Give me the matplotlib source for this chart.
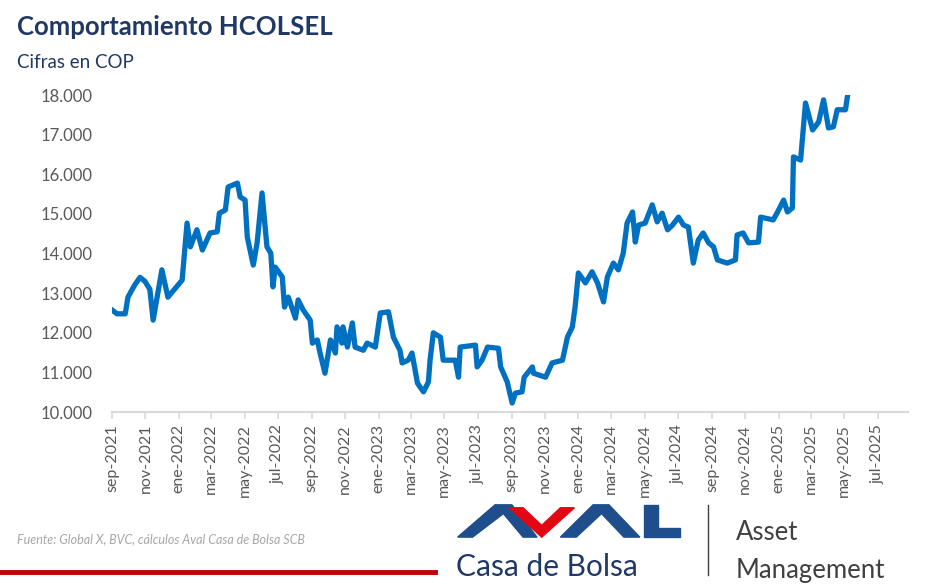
import matplotlib
matplotlib.use("Agg")
import matplotlib.pyplot as plt
import pandas as pd
from matplotlib.lines import Line2D
from matplotlib.patches import Polygon

fechas = ["2021-09-01","2021-09-10","2021-09-25","2021-09-30","2021-10-12","2021-10-22","2021-10-31","2021-11-09",
"2021-11-15","2021-12-01","2021-12-12","2022-01-07","2022-01-16",
"2022-01-22","2022-02-03","2022-02-13","2022-02-27","2022-03-12","2022-03-16","2022-03-27","2022-04-01",
"2022-04-18","2022-04-23","2022-05-02","2022-05-06","2022-05-17","2022-05-24","2022-06-02","2022-06-11",
"2022-06-18","2022-06-22","2022-06-26","2022-07-09","2022-07-13","2022-07-20","2022-08-02","2022-08-07",
"2022-08-16","2022-08-29","2022-09-02","2022-09-11","2022-09-16","2022-09-25","2022-10-05","2022-10-14",
"2022-10-17","2022-10-26","2022-10-28","2022-11-05","2022-11-14","2022-11-19","2022-12-04","2022-12-11",
"2022-12-26","2023-01-04","2023-01-19","2023-01-28","2023-02-09","2023-02-13","2023-02-24","2023-03-03",
"2023-03-13","2023-03-24","2023-04-02","2023-04-05","2023-04-11","2023-04-24","2023-04-29","2023-05-21",
"2023-05-27","2023-05-30","2023-06-27","2023-06-30","2023-07-09","2023-07-19","2023-08-08","2023-08-12",
"2023-08-24","2023-09-02","2023-09-08","2023-09-20","2023-09-24","2023-10-09","2023-10-11","2023-11-02",
"2023-11-14","2023-12-03","2023-12-12","2023-12-21","2023-12-26","2024-01-01","2024-01-14","2024-01-26",
"2024-02-05","2024-02-16","2024-02-23","2024-03-05","2024-03-14","2024-03-23","2024-03-30","2024-04-09",
"2024-04-14","2024-04-20","2024-05-02","2024-05-15","2024-05-24","2024-06-02","2024-06-12","2024-06-21",
"2024-07-02","2024-07-11","2024-07-20","2024-07-29","2024-08-07","2024-08-16","2024-08-26","2024-09-04",
"2024-09-11","2024-09-29","2024-10-14","2024-10-17","2024-10-28","2024-11-07","2024-11-25","2024-11-29",
"2024-12-22","2024-12-30","2025-01-10","2025-01-17","2025-01-26","2025-01-28","2025-02-10","2025-02-19",
"2025-03-04","2025-03-15","2025-03-24","2025-04-02","2025-04-11","2025-04-18","2025-05-03","2025-05-07"]
valores = [12576,12480,12480,12900,13200,13400,13300,13100,
12320,13590,12900,13330,14770,
14170,14600,14090,14520,14550,15020,15100,15680,
15780,15430,15350,14420,13710,14270,15530,14170,
14010,13160,13660,13410,12650,12900,12370,12830,
12580,12320,11740,11820,11490,10980,11820,11490,
12150,11740,12150,11640,12250,11640,11560,11740,
11640,12500,12530,11890,11560,11240,11310,11490,
10730,10510,10760,11310,12000,11890,11310,11310,
10880,11640,11690,11140,11310,11640,11610,11140,
10760,10230,10480,10510,10880,11140,10980,10880,
11240,11310,11890,12150,12650,13510,13260,13540,
13260,12780,13410,13760,13590,14010,14770,15050,
14290,14720,14770,15230,14800,15020,14600,14720,
14920,14720,14670,13760,14340,14520,14270,14170,
13840,13760,13840,14470,14520,14270,14290,14920,
14850,15050,15350,15050,15150,16440,16360,17800,
17120,17320,17880,17170,17200,17630,17630,18000]
y_ticks = [10000,11000,12000,13000,14000,15000,16000,17000,18000]
meses = ["ene","feb","mar","abr","may","jun","jul","ago","sep","oct","nov","dic"]

font = "Lato"
x = pd.to_datetime(fechas)
fig = plt.figure(figsize=(9.34, 5.87), dpi=100)
ax = fig.add_axes([0.12, 0.298, 0.852, 0.54])
ax.plot(x, valores, color="#0070C0", lw=3.8, solid_joinstyle="round")
ax.set_ylim(10000, 18000)
ax.set_xlim(pd.Timestamp("2021-09-01"), pd.Timestamp("2025-08-25"))
ax.set_yticks(y_ticks)
ax.set_yticklabels([f"{v:,}".replace(",", ".") for v in y_ticks], fontsize=12, color="#595959", fontname=font)
ticks = pd.date_range("2021-09-01", "2025-07-01", freq="2MS")
ax.set_xticks(ticks)
ax.set_xticklabels([f"{meses[t.month-1]}-{t.year}" for t in ticks], rotation=90, fontsize=11.5,
                   color="#595959", fontname=font)
for s in ["top", "right", "left"]:
    ax.spines[s].set_visible(False)
ax.spines["bottom"].set_color("#D9D9D9")
ax.spines["bottom"].set_linewidth(1.5)
ax.tick_params(axis="y", length=0, pad=14)
ax.tick_params(axis="x", length=5, color="#D9D9D9", width=1.2)

fig.text(0.018, 0.94, "Comportamiento HCOLSEL", fontsize=18.5, fontweight="bold", color="#1F3864", fontname=font)
fig.text(0.018, 0.885, "Cifras en COP", fontsize=13.5, color="#1F3864", fontname=font)
fig.text(0.018, 0.074, "Fuente: Global X, BVC, cálculos Aval Casa de Bolsa SCB", fontsize=9,
         style="italic", color="#A6A6A6", fontname=font)
fig.add_artist(Line2D([0, 0.466], [0.025, 0.025], color="#C00000", lw=3.5, transform=fig.transFigure))

# logo
fig.text(0.488, 0.018, "Casa de Bolsa", fontsize=21.5, color="#1F3864", fontname=font)
fig.text(0.788, 0.08, "Asset", fontsize=18.5, color="#404040", fontname=font)
fig.text(0.788, 0.016, "Management", fontsize=18.5, color="#404040", fontname=font)
fig.add_artist(Line2D([0.758, 0.758], [0.02, 0.14], color="#404040", lw=1, transform=fig.transFigure))
def chev(pts, c):
    fig.add_artist(Polygon(pts, closed=True, color=c, transform=fig.transFigure))
chev([(0.49, 0.085), (0.53, 0.14), (0.548, 0.14), (0.575, 0.085), (0.56, 0.085), (0.539, 0.125), (0.506, 0.085)], "#1F4E8C")
chev([(0.545, 0.135), (0.58, 0.085), (0.615, 0.135), (0.6, 0.135), (0.58, 0.105), (0.56, 0.135)], "#E30613")
chev([(0.6, 0.085), (0.635, 0.14), (0.652, 0.14), (0.685, 0.085), (0.668, 0.085), (0.644, 0.125), (0.617, 0.085)], "#1F4E8C")
chev([(0.69, 0.14), (0.705, 0.14), (0.705, 0.1), (0.728, 0.1), (0.728, 0.085), (0.69, 0.085)], "#1F4E8C")

fig.savefig("out.png", dpi=100)
